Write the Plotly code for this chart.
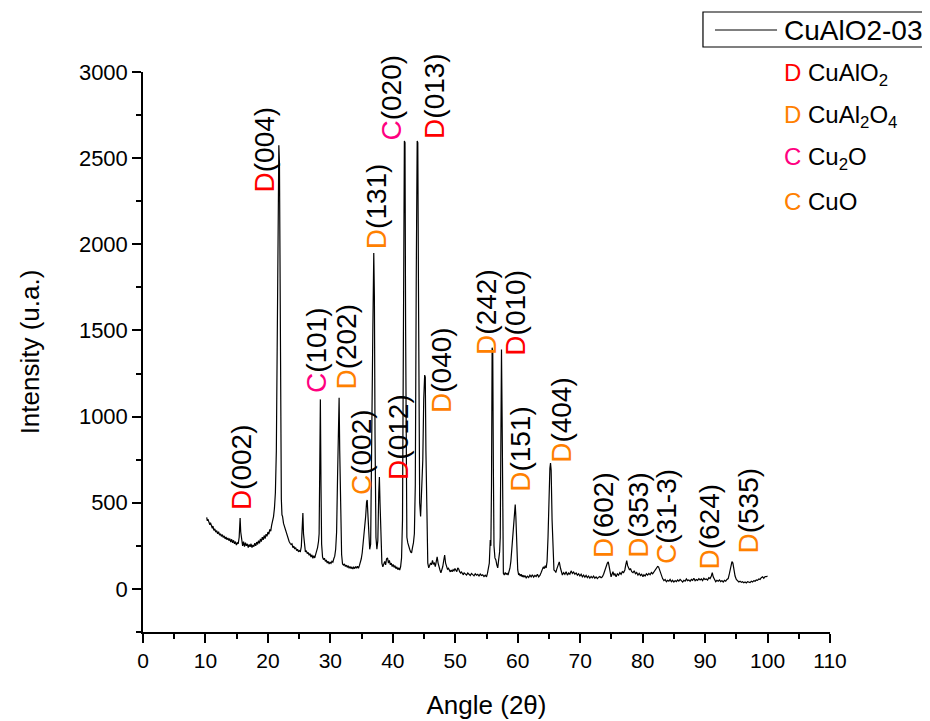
import plotly.graph_objects as go

# ---------------- data ----------------
xrd_pattern = [
    (10.2, 415), (10.3, 395), (10.4, 405), (10.55, 380), (10.7, 372), (10.8, 385), (10.95, 360),
    (11.1, 352), (11.2, 365), (11.35, 340), (11.5, 348), (11.65, 330), (11.8, 338), (11.95, 320),
    (12.1, 332), (12.25, 312), (12.4, 320), (12.55, 305), (12.7, 315), (12.85, 298), (13.0, 308),
    (13.15, 290), (13.3, 302), (13.45, 285), (13.6, 296), (13.75, 280), (13.9, 292), (14.05, 272),
    (14.2, 288), (14.35, 268), (14.5, 282), (14.65, 262), (14.8, 275), (14.95, 255), (15.1, 268),
    (15.25, 262), (15.4, 300), (15.55, 412), (15.65, 330), (15.8, 270), (15.95, 250), (16.1, 275),
    (16.25, 245), (16.4, 268), (16.55, 250), (16.7, 262), (16.85, 240), (17.0, 258), (17.15, 245),
    (17.3, 262), (17.45, 240), (17.6, 255), (17.75, 245), (17.9, 265), (18.05, 250), (18.2, 272),
    (18.35, 258), (18.5, 280), (18.65, 265), (18.8, 290), (18.95, 275), (19.1, 300), (19.25, 285),
    (19.4, 310), (19.55, 292), (19.7, 318), (19.85, 305), (20.0, 330), (20.15, 318), (20.3, 345),
    (20.45, 335), (20.6, 370), (20.75, 395), (20.9, 420), (21.05, 470), (21.2, 560), (21.35, 800),
    (21.5, 1400), (21.65, 2300), (21.75, 2575), (21.85, 2470), (21.95, 1500), (22.05, 800),
    (22.15, 520), (22.25, 430), (22.35, 420), (22.5, 380), (22.65, 360), (22.8, 340), (22.95, 325),
    (23.1, 300), (23.25, 290), (23.4, 275), (23.55, 265), (23.7, 258), (23.85, 262), (24.0, 240),
    (24.15, 248), (24.3, 232), (24.45, 240), (24.6, 222), (24.75, 230), (24.9, 215), (25.05, 222),
    (25.2, 218), (25.35, 245), (25.5, 350), (25.6, 441), (25.7, 320), (25.85, 232), (26.0, 215),
    (26.15, 222), (26.3, 205), (26.45, 212), (26.6, 195), (26.75, 205), (26.9, 185), (27.05, 198),
    (27.2, 178), (27.35, 192), (27.5, 180), (27.65, 200), (27.8, 215), (27.95, 240), (28.1, 275),
    (28.2, 320), (28.3, 700), (28.4, 1100), (28.5, 600), (28.6, 260), (28.75, 185), (28.9, 170),
    (29.05, 178), (29.2, 160), (29.35, 168), (29.5, 150), (29.65, 160), (29.8, 145), (29.95, 155),
    (30.1, 148), (30.25, 160), (30.4, 155), (30.55, 175), (30.7, 190), (30.85, 230), (31.0, 330),
    (31.15, 650), (31.3, 1050), (31.4, 1110), (31.5, 800), (31.65, 350), (31.8, 200), (31.95, 145),
    (32.1, 138), (32.25, 145), (32.4, 130), (32.55, 138), (32.7, 125), (32.85, 135), (33.0, 120),
    (33.15, 130), (33.3, 118), (33.45, 128), (33.6, 115), (33.75, 126), (33.9, 118), (34.05, 130),
    (34.2, 120), (34.35, 132), (34.5, 120), (34.65, 135), (34.8, 150), (34.95, 175), (35.1, 210),
    (35.25, 260), (35.45, 330), (35.65, 420), (35.8, 505), (35.9, 516), (36.0, 440), (36.15, 300),
    (36.3, 230), (36.45, 260), (36.65, 800), (36.8, 1500), (36.95, 1949), (37.05, 1700),
    (37.15, 900), (37.3, 300), (37.45, 230), (37.6, 280), (37.75, 560), (37.85, 650), (37.95, 500),
    (38.1, 250), (38.25, 150), (38.4, 128), (38.55, 145), (38.7, 160), (38.85, 140), (39.0, 175),
    (39.15, 180), (39.3, 150), (39.45, 165), (39.6, 140), (39.75, 150), (39.9, 130), (40.05, 142),
    (40.2, 125), (40.35, 135), (40.5, 118), (40.65, 128), (40.8, 112), (40.95, 122), (41.1, 110),
    (41.25, 130), (41.4, 180), (41.55, 400), (41.7, 1500), (41.85, 2600), (41.95, 2590),
    (42.05, 1500), (42.15, 600), (42.25, 300), (42.4, 267), (42.55, 240), (42.7, 230), (42.85, 215),
    (43.0, 209), (43.15, 240), (43.3, 267), (43.45, 320), (43.6, 600), (43.75, 1800), (43.9, 2600),
    (44.0, 2590), (44.1, 1800), (44.2, 900), (44.3, 500), (44.45, 420), (44.6, 600), (44.7, 730),
    (44.8, 750), (44.95, 1100), (45.1, 1241), (45.2, 1230), (45.3, 800), (45.45, 350), (45.6, 150),
    (45.75, 122), (45.9, 135), (46.05, 150), (46.2, 140), (46.35, 165), (46.5, 145), (46.65, 150),
    (46.8, 130), (46.95, 155), (47.1, 186), (47.25, 150), (47.4, 120), (47.55, 110), (47.7, 93),
    (47.85, 110), (48.0, 130), (48.15, 165), (48.3, 197), (48.45, 150), (48.6, 130), (48.75, 115),
    (48.9, 120), (49.05, 105), (49.2, 99), (49.35, 110), (49.5, 100), (49.65, 112), (49.8, 105),
    (49.95, 118), (50.1, 110), (50.25, 100), (50.4, 122), (50.55, 115), (50.7, 100), (50.85, 92),
    (51.0, 98), (51.15, 85), (51.3, 81), (51.4, 95), (51.6, 88), (51.8, 80), (52.0, 92), (52.2, 84),
    (52.4, 78), (52.6, 90), (52.8, 82), (53.0, 76), (53.2, 88), (53.4, 80), (53.6, 85), (53.8, 75),
    (54.0, 86), (54.2, 78), (54.4, 82), (54.6, 72), (54.8, 80), (55.0, 70), (55.15, 90),
    (55.3, 120), (55.45, 150), (55.6, 284), (55.7, 250), (55.8, 600), (55.9, 1400), (56.0, 1380),
    (56.1, 700), (56.2, 250), (56.35, 180), (56.5, 168), (56.65, 140), (56.8, 122), (56.95, 170),
    (57.1, 215), (57.2, 300), (57.3, 900), (57.4, 1390), (57.5, 1000), (57.6, 300), (57.7, 90),
    (57.85, 81), (58.0, 95), (58.15, 85), (58.3, 90), (58.45, 81), (58.6, 100), (58.75, 120),
    (58.9, 160), (59.0, 209), (59.15, 280), (59.35, 400), (59.5, 470), (59.6, 490), (59.7, 420),
    (59.85, 250), (60.0, 110), (60.15, 81), (60.25, 90), (60.4, 75), (60.55, 85), (60.7, 70),
    (60.85, 80), (61.0, 68), (61.15, 78), (61.35, 64), (61.55, 74), (61.75, 66), (61.95, 80),
    (62.15, 70), (62.35, 82), (62.55, 68), (62.75, 78), (62.95, 72), (63.15, 85), (63.35, 70),
    (63.55, 78), (63.75, 95), (63.95, 110), (64.1, 128), (64.25, 118), (64.4, 135), (64.55, 122),
    (64.7, 160), (64.85, 300), (65.0, 550), (65.15, 700), (65.25, 731), (65.35, 690), (65.5, 400),
    (65.65, 180), (65.8, 110), (65.95, 105), (66.1, 95), (66.25, 115), (66.45, 140), (66.65, 157),
    (66.85, 120), (67.0, 90), (67.15, 81), (67.35, 95), (67.55, 85), (67.75, 100), (67.95, 80),
    (68.15, 92), (68.35, 85), (68.55, 105), (68.75, 90), (68.95, 98), (69.15, 85), (69.35, 93),
    (69.55, 80), (69.75, 88), (69.95, 75), (70.15, 85), (70.35, 70), (70.55, 80), (70.75, 68),
    (70.95, 78), (71.15, 65), (71.35, 75), (71.55, 62), (71.75, 72), (71.95, 64), (72.15, 74),
    (72.35, 62), (72.55, 70), (72.75, 60), (72.95, 68), (73.15, 72), (73.35, 65), (73.55, 70),
    (73.75, 85), (73.95, 110), (74.15, 130), (74.35, 150), (74.5, 157), (74.65, 125), (74.8, 95),
    (74.95, 70), (75.1, 85), (75.25, 100), (75.4, 78), (75.55, 90), (75.75, 71), (75.95, 88),
    (76.15, 80), (76.35, 95), (76.55, 85), (76.75, 100), (76.95, 95), (77.15, 110), (77.3, 140),
    (77.45, 164), (77.6, 135), (77.75, 125), (77.9, 110), (78.05, 118), (78.25, 100), (78.45, 95),
    (78.65, 105), (78.85, 88), (79.05, 95), (79.25, 80), (79.45, 90), (79.65, 78), (79.85, 85),
    (80.05, 71), (80.2, 82), (80.4, 75), (80.6, 88), (80.8, 80), (81.0, 90), (81.2, 82), (81.4, 95),
    (81.6, 88), (81.8, 100), (82.0, 105), (82.2, 118), (82.4, 130), (82.55, 128), (82.7, 110),
    (82.85, 90), (83.0, 70), (83.2, 60), (83.4, 48), (83.6, 55), (83.8, 42), (84.0, 50), (84.2, 45),
    (84.4, 55), (84.6, 42), (84.8, 50), (85.0, 40), (85.2, 48), (85.4, 42), (85.6, 52), (85.8, 45),
    (86.0, 55), (86.2, 48), (86.4, 40), (86.6, 50), (86.8, 45), (87.0, 58), (87.2, 48), (87.4, 52),
    (87.6, 44), (87.8, 55), (88.0, 50), (88.2, 62), (88.4, 48), (88.6, 55), (88.8, 50), (89.0, 60),
    (89.2, 52), (89.4, 58), (89.6, 48), (89.8, 62), (90.0, 55), (90.2, 58), (90.4, 52), (90.6, 65),
    (90.8, 60), (91.0, 75), (91.15, 95), (91.3, 70), (91.5, 50), (91.7, 42), (91.9, 50), (92.1, 45),
    (92.3, 52), (92.5, 42), (92.7, 48), (92.9, 40), (93.1, 50), (93.3, 45), (93.5, 55), (93.7, 60),
    (93.9, 90), (94.1, 130), (94.3, 158), (94.45, 150), (94.6, 110), (94.8, 75), (95.0, 55),
    (95.2, 45), (95.4, 40), (95.6, 45), (95.8, 38), (96.0, 42), (96.2, 36), (96.4, 40), (96.6, 35),
    (96.8, 42), (97.0, 38), (97.2, 37), (97.4, 45), (97.6, 40), (97.8, 48), (98.0, 45), (98.2, 52),
    (98.4, 50), (98.6, 58), (98.8, 55), (99.0, 65), (99.2, 70), (99.4, 62), (99.6, 72), (99.8, 71),
    (100.0, 75),
]
angle = [p[0] for p in xrd_pattern]
intensity = [p[1] for p in xrd_pattern]

series_name = "CuAlO2-03"

# peak labels: phase letter, hkl, phase key, label anchor (angle, intensity)
peak_letters = ["D", "D", "C", "D", "C", "D", "D", "C", "D", "D",
                "D", "D", "D", "D", "D", "D", "C", "D", "D"]
peak_hkl = ["(002)", "(004)", "(101)", "(202)", "(002)", "(131)", "(012)", "(020)", "(013)", "(040)",
            "(242)", "(010)", "(151)", "(404)", "(602)", "(353)", "(31-3)", "(624)", "(535)"]
peak_phase = ["CuAlO2", "CuAlO2", "Cu2O", "CuAl2O4", "CuO", "CuAl2O4", "CuAlO2", "Cu2O", "CuAlO2",
              "CuAl2O4", "CuAl2O4", "CuAlO2", "CuAl2O4", "CuAl2O4", "CuAl2O4", "CuAl2O4", "CuO",
              "CuAl2O4", "CuAl2O4"]
label_angle = [15.7, 19.4, 27.7, 32.6, 34.9, 37.3, 40.8, 39.8, 46.7, 47.7,
               54.9, 59.5, 60.5, 66.9, 73.8, 79.4, 83.8, 90.7, 96.8]
label_intensity = [446, 2290, 1125, 1143, 533, 1960, 620, 2588, 2598, 1009,
                   1346, 1340, 551, 719, 168, 168, 133, 104, 191]

phase_keys = ["CuAlO2", "CuAl2O4", "Cu2O", "CuO"]
phase_letters = ["D", "D", "C", "C"]
phase_labels = ["CuAlO<sub>2</sub>", "CuAl<sub>2</sub>O<sub>4</sub>", "Cu<sub>2</sub>O", "CuO"]

x_ticks = list(range(0, 111, 10))
y_ticks = list(range(0, 3001, 500))

# ---------------- styling ----------------
FONT = "Arial, Liberation Sans, Helvetica, sans-serif"
phase_color = {"CuAlO2": "#FF0000", "CuAl2O4": "#FF8000", "Cu2O": "#FF0080", "CuO": "#FF8000"}

fig = go.Figure()
fig.add_trace(go.Scatter(
    x=angle, y=intensity, mode="lines", name=series_name, showlegend=False,
    line=dict(color="black", width=1.2),
))

annotations = []
for letter, hkl, ph, xa, ya in zip(peak_letters, peak_hkl, peak_phase, label_angle, label_intensity):
    annotations.append(dict(
        x=xa, y=ya, xref="x", yref="y",
        text=f"<span style='color:{phase_color[ph]}'>{letter}</span>{hkl}",
        textangle=-90, showarrow=False, xanchor="center", yanchor="bottom",
        font=dict(family=FONT, size=28, color="black"),
    ))

# series key (boxed, top right)
annotations.append(dict(
    x=0.9301, y=1.075, xref="paper", yref="paper", text=series_name,
    showarrow=False, xanchor="left", yanchor="middle",
    font=dict(family=FONT, size=28, color="black"),
))

phase_y = [0.995, 0.920, 0.845, 0.768]
for key, letter, lab, py in zip(phase_keys, phase_letters, phase_labels, phase_y):
    annotations.append(dict(
        x=0.9296, y=py, xref="paper", yref="paper",
        text=f"<span style='color:{phase_color[key]}'>{letter}</span> {lab}",
        showarrow=False, xanchor="left", yanchor="middle",
        font=dict(family=FONT, size=24, color="black"),
    ))

shapes = [
    dict(type="rect", xref="paper", yref="paper", x0=0.8151, x1=1.17, y0=1.0446, y1=1.1071,
         line=dict(color="black", width=1.2), fillcolor="rgba(0,0,0,0)"),
    dict(type="line", xref="paper", yref="paper", x0=0.8326, x1=0.9229, y0=1.075, y1=1.075,
         line=dict(color="black", width=1)),
]

fig.update_layout(
    width=930, height=721,
    margin=dict(l=135, r=108, t=64, b=97, autoexpand=False),
    paper_bgcolor="white", plot_bgcolor="white",
    font=dict(family=FONT, color="black"),
    showlegend=False,
    annotations=annotations,
    shapes=shapes,
)

fig.update_xaxes(
    range=[0, 110], tickmode="array", tickvals=x_ticks, ticktext=[str(v) for v in x_ticks],
    ticks="outside", ticklen=9, tickwidth=1.5, tickcolor="black",
    minor=dict(dtick=5, tick0=0, ticks="outside", ticklen=5, tickwidth=1.5, tickcolor="black"),
    showline=True, linecolor="black", linewidth=1.5, showgrid=False, zeroline=False,
    tickfont=dict(family=FONT, size=21, color="black"),
    title=dict(text="Angle (2θ)", font=dict(family=FONT, size=26, color="black"), standoff=25),
)
fig.update_yaxes(
    range=[-250, 3000], tickmode="array", tickvals=y_ticks, ticktext=[str(v) for v in y_ticks],
    ticks="outside", ticklen=9, tickwidth=1.5, tickcolor="black",
    minor=dict(dtick=250, tick0=0, ticks="outside", ticklen=5, tickwidth=1.5, tickcolor="black"),
    showline=True, linecolor="black", linewidth=1.5, showgrid=False, zeroline=False,
    tickfont=dict(family=FONT, size=22, color="black"),
    title=dict(text="Intensity (u.a.)", font=dict(family=FONT, size=26, color="black"), standoff=32),
)

fig.write_html("out.html")
